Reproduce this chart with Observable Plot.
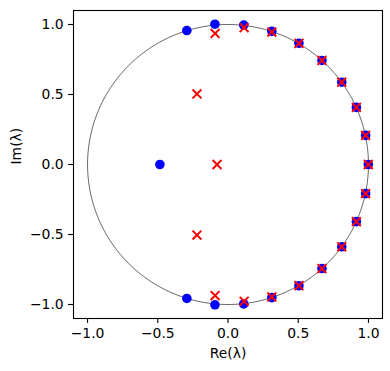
<!DOCTYPE html>
<html>
<head>
<meta charset="utf-8">
<script src="https://cdn.jsdelivr.net/npm/d3@7"></script>
<script src="https://cdn.jsdelivr.net/npm/@observablehq/plot@0.6"></script>
<style>
  html, body { margin: 0; padding: 0; background: #fff; }
  svg { display: block; }
</style>
</head>
<body>
<div id="chart"></div>
<script>
// Eigenvalues (blue dots)
const blueRe = [0.999, 0.980, 0.914, 0.810, 0.669, 0.505, 0.312, 0.112, -0.093, -0.293, -0.485, -0.293, -0.093, 0.112, 0.312, 0.505, 0.669, 0.810, 0.914, 0.980];
const blueIm = [0.0, 0.208, 0.408, 0.588, 0.743, 0.866, 0.951, 0.996, 1.002, 0.957, 0.0, -0.957, -1.002, -0.996, -0.951, -0.866, -0.743, -0.588, -0.408, -0.208];
// Approximated eigenvalues (red crosses)
const redRe = [0.999, 0.980, 0.914, 0.810, 0.669, 0.505, 0.312, 0.115, -0.092, -0.221, -0.078, -0.221, -0.092, 0.115, 0.312, 0.505, 0.669, 0.810, 0.914, 0.980];
const redIm = [0.0, 0.208, 0.408, 0.588, 0.743, 0.866, 0.946, 0.977, 0.936, 0.504, 0.0, -0.504, -0.936, -0.977, -0.946, -0.866, -0.743, -0.588, -0.408, -0.208];
const ticks = [-1.0, -0.5, 0.0, 0.5, 1.0];
const xLabel = "Re(λ)";
const yLabel = "Im(λ)";

const blue = blueRe.map((re, i) => ({re, im: blueIm[i]}));
const red = redRe.map((re, i) => ({re, im: redIm[i]}));
// unit circle reference
const circle = d3.range(0, 361, 1).map(a => ({re: Math.cos(a * Math.PI / 180), im: Math.sin(a * Math.PI / 180)}));

const fmt = d3.format(".1f");
const FS = 13.9;

const chart = Plot.plot({
  width: 390,
  height: 371,
  marginLeft: 73,
  marginRight: 8,
  marginTop: 10,
  marginBottom: 53,
  style: {fontFamily: "DejaVu Sans, sans-serif", fontSize: FS + "px", color: "#000", background: "#fff"},
  x: {domain: [-1.1, 1.1]},
  y: {domain: [-1.1, 1.1]},
  marks: [
    Plot.line(circle, {x: "re", y: "im", stroke: "#000", strokeWidth: 0.6}),
    Plot.dot(blue, {x: "re", y: "im", r: 4.8, fill: "#0000ff", stroke: "none"}),
    Plot.dot(red, {x: "re", y: "im", r: 4.1, symbol: "times", stroke: "#ff0000", strokeWidth: 2}),
    Plot.frame({stroke: "#000", strokeWidth: 1.1}),
    Plot.axisX({ticks, tickFormat: fmt, tickSize: 4.9, tickPadding: 4.9, label: null, fontSize: FS, strokeWidth: 1.1}),
    Plot.axisY({ticks, tickFormat: fmt, tickSize: 4.9, tickPadding: 4.9, label: null, fontSize: FS, strokeWidth: 1.1}),
    Plot.text([xLabel], {text: d => d, frameAnchor: "bottom", dy: 35.5, lineAnchor: "middle", fontSize: FS, fill: "#000"}),
    Plot.text([yLabel], {text: d => d, frameAnchor: "left", dx: -56.5, rotate: -90, lineAnchor: "middle", fontSize: FS, fill: "#000"})
  ]
});
document.getElementById("chart").appendChild(chart);
</script>
</body>
</html>
